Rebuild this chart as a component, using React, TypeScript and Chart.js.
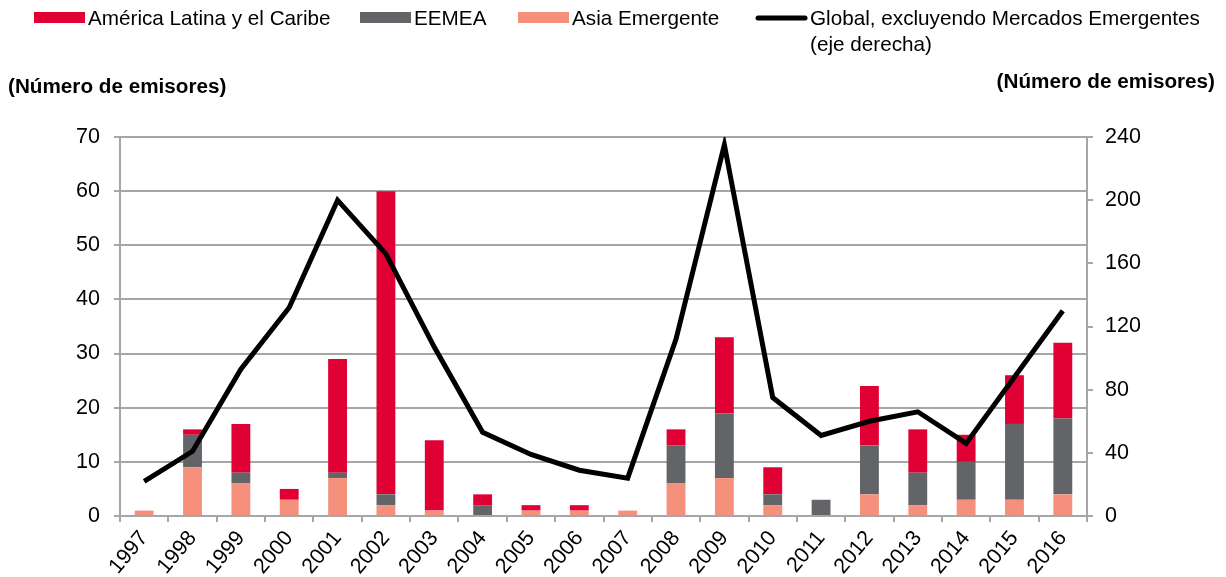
import React, { useEffect, useRef } from 'react';
import { Chart, registerables } from 'chart.js';

Chart.register(...registerables);

const years = ['1997', '1998', '1999', '2000', '2001', '2002', '2003', '2004', '2005', '2006', '2007', '2008', '2009', '2010', '2011', '2012', '2013', '2014', '2015', '2016'];
const latam = [0, 1, 9, 2, 21, 56, 13, 2, 1, 1, 0, 3, 14, 5, 0, 11, 8, 5, 9, 14];
const eemea = [0, 6, 2, 0, 1, 2, 0, 2, 0, 0, 0, 7, 12, 2, 3, 9, 6, 7, 14, 14];
const asia = [1, 9, 6, 3, 7, 2, 1, 0, 1, 1, 1, 6, 7, 2, 0, 4, 2, 3, 3, 4];
const globalExEM = [22, 41, 93, 132, 200, 166, 107, 53, 39, 29, 24, 112, 235, 75, 51, 60, 66, 46, 88, 130];

const legendLabels = ['América Latina y el Caribe', 'EEMEA', 'Asia Emergente', 'Global, excluyendo Mercados Emergentes'];
const legendSecondLine = '(eje derecha)';
const axisTitle = '(Número de emisores)';

const RED = '#e00034';
const GREY = '#636468';
const SALMON = '#f4907b';
const GRID = '#a6a6a6';
const FONT = "'Liberation Sans', Arial, sans-serif";

const overlayPlugin = {
  id: 'overlay',
  afterDraw(chart: any) {
    const ctx = chart.ctx as CanvasRenderingContext2D;
    ctx.save();
    ctx.fillStyle = '#000';
    ctx.textBaseline = 'middle';
    ctx.textAlign = 'left';
    ctx.font = `20.7px ${FONT}`;
    const items = [
      { x: 34, color: RED, text: legendLabels[0], line: false },
      { x: 360, color: GREY, text: legendLabels[1], line: false },
      { x: 518, color: SALMON, text: legendLabels[2], line: false },
      { x: 756, color: '#000', text: legendLabels[3], line: true },
    ];
    for (const it of items) {
      if (it.line) {
        ctx.strokeStyle = it.color;
        ctx.lineWidth = 5;
        ctx.lineCap = 'round';
        ctx.beginPath();
        ctx.moveTo(it.x + 2, 18);
        ctx.lineTo(it.x + 49, 18);
        ctx.stroke();
      } else {
        ctx.fillStyle = it.color;
        ctx.fillRect(it.x, 12, 51, 11);
      }
      ctx.fillStyle = '#000';
      ctx.fillText(it.text, it.x + 54, 19);
    }
    ctx.fillText(legendSecondLine, 810, 45);
    ctx.font = `bold 20.7px ${FONT}`;
    ctx.fillText(axisTitle, 8, 87);
    ctx.textAlign = 'right';
    ctx.fillText(axisTitle, 1215, 82);
    ctx.restore();
  },
};

export default function App() {
  const ref = useRef<HTMLCanvasElement | null>(null);
  useEffect(() => {
    if (!ref.current) return;
    const chart = new Chart(ref.current, {
      type: 'bar',
      data: {
        labels: years,
        datasets: [
          { label: 'Asia Emergente', data: asia, backgroundColor: SALMON, yAxisID: 'y', order: 1, categoryPercentage: 1, barPercentage: 0.39 } as any,
          { label: 'EEMEA', data: eemea, backgroundColor: GREY, yAxisID: 'y', order: 1, categoryPercentage: 1, barPercentage: 0.39 } as any,
          { label: 'América Latina y el Caribe', data: latam, backgroundColor: RED, yAxisID: 'y', order: 1, categoryPercentage: 1, barPercentage: 0.39 } as any,
          { type: 'line', label: 'Global, excluyendo Mercados Emergentes (eje derecha)', data: globalExEM, borderColor: '#000', backgroundColor: '#000', borderWidth: 5, pointRadius: 0, tension: 0, yAxisID: 'y1', order: 0 } as any,
        ],
      },
      options: {
        animation: false,
        responsive: false,
        maintainAspectRatio: false,
        layout: { padding: { top: 137, left: 0, right: 0, bottom: 0 } },
        plugins: { legend: { display: false }, tooltip: { enabled: false }, title: { display: false } },
        scales: {
          x: {
            stacked: true,
            afterFit: (s: any) => { s.height = 61; },
            grid: { drawOnChartArea: false, drawTicks: true, tickLength: 6, color: GRID, lineWidth: 2, offset: true },
            border: { color: GRID, width: 2 },
            ticks: { color: '#000', font: { family: FONT, size: 21.5 }, minRotation: 50, maxRotation: 50, padding: 4, autoSkip: false },
          },
          y: {
            position: 'left',
            stacked: true,
            min: 0,
            max: 70,
            afterFit: (s: any) => { s.width = 120; },
            ticks: { stepSize: 10, color: '#000', font: { family: FONT, size: 21.5 }, padding: 14 },
            grid: { color: GRID, lineWidth: 2, tickLength: 6 },
            border: { color: GRID, width: 2 },
          },
          y1: {
            position: 'right',
            min: 0,
            max: 240,
            afterFit: (s: any) => { s.width = 139; },
            ticks: { stepSize: 40, color: '#000', font: { family: FONT, size: 21.5 }, padding: 12 },
            grid: { drawOnChartArea: false, color: GRID, lineWidth: 2, tickLength: 6 },
            border: { color: GRID, width: 2 },
          },
        },
      },
      plugins: [overlayPlugin],
    });
    return () => chart.destroy();
  }, []);
  return (
    <div style={{ position: 'fixed', left: 0, top: 0, width: 1226, height: 577, background: '#fff' }}>
      <canvas ref={ref} width={1226} height={577} style={{ width: 1226, height: 577, display: 'block' }} />
    </div>
  );
}
